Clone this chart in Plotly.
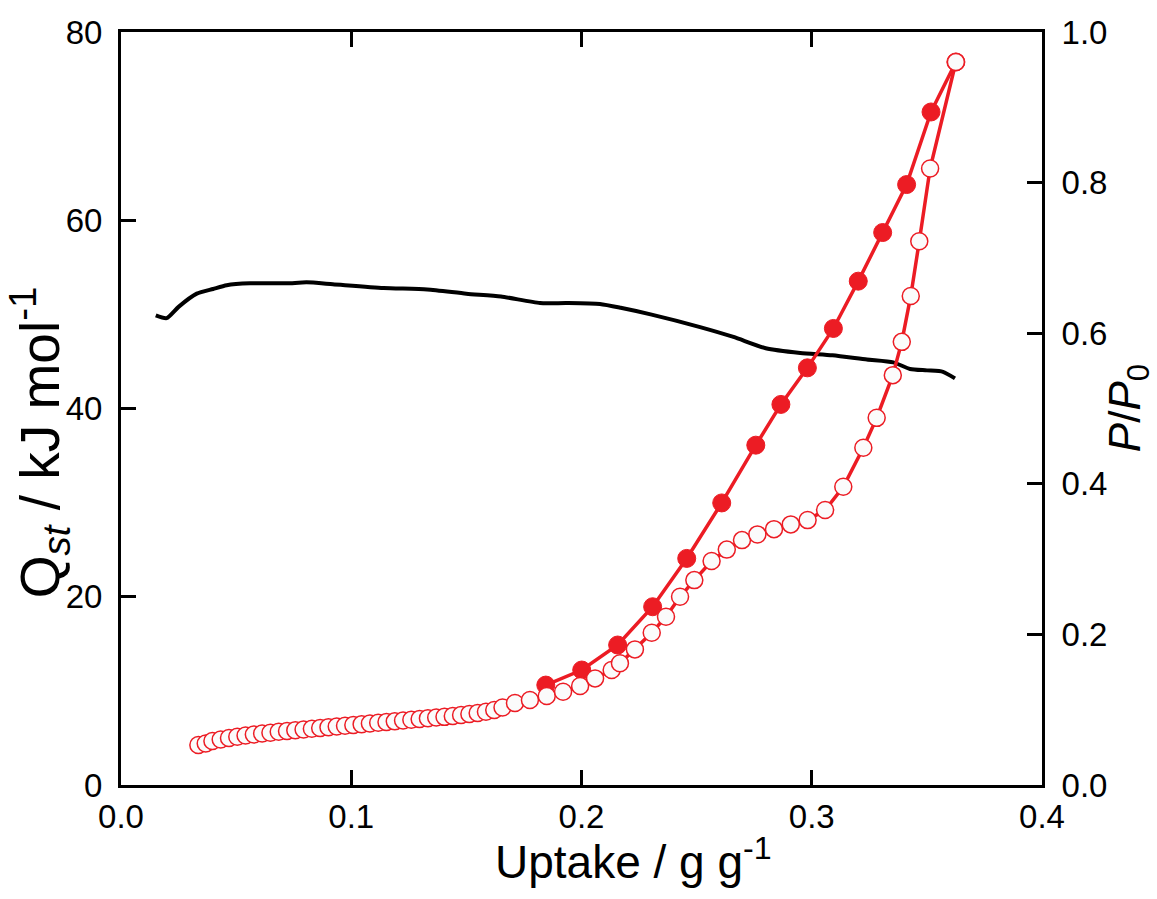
import plotly.graph_objects as go

# Isosteric heat of adsorption (left axis)
qst_uptake = [0.0151, 0.0198, 0.0250, 0.0329, 0.0400, 0.0459, 0.0560, 0.0720, 0.0806, 0.0920,
              0.1140, 0.1330, 0.1500, 0.1650, 0.1820, 0.1936, 0.2080, 0.2170, 0.2300, 0.2515,
              0.2660, 0.2800, 0.2950, 0.3090, 0.3240, 0.3354, 0.3427, 0.3500, 0.3570, 0.3622]
qst_values = [49.9, 49.6, 50.8, 52.2, 52.7, 53.1, 53.3, 53.3, 53.4, 53.2,
              52.8, 52.65, 52.2, 51.9, 51.2, 51.2, 51.1, 50.7, 50.0, 48.65,
              47.6, 46.4, 45.9, 45.65, 45.2, 44.9, 44.2, 44.05, 43.9, 43.2]

# Adsorption branch (filled circles, right axis)
ads_uptake = [0.1845, 0.2001, 0.2157, 0.2309, 0.2457, 0.2609, 0.2757, 0.2866, 0.2981, 0.3094,
              0.3202, 0.3308, 0.3412, 0.3518, 0.3626]
ads_pp0 = [0.1327, 0.1527, 0.1859, 0.2367, 0.3009, 0.3746, 0.4513, 0.5054, 0.5540, 0.6063,
           0.6691, 0.7337, 0.7974, 0.8938, 0.9602]

# Desorption branch (open circles, right axis)
des_uptake = [0.0336, 0.0368, 0.0397, 0.0433, 0.0469, 0.0505, 0.0541, 0.0577, 0.0613, 0.0649,
              0.0685, 0.0721, 0.0757, 0.0793, 0.0829, 0.0865, 0.0901, 0.0937, 0.0973, 0.1009,
              0.1045, 0.1081, 0.1117, 0.1153, 0.1189, 0.1225, 0.1261, 0.1297, 0.1333, 0.1369,
              0.1405, 0.1441, 0.1477, 0.1513, 0.1549, 0.1585, 0.1621, 0.1657,
              0.1711, 0.1776, 0.1849, 0.1920, 0.1994, 0.2059, 0.2131, 0.2167, 0.2232, 0.2305,
              0.2367, 0.2428, 0.2490, 0.2565, 0.2631, 0.2697, 0.2764, 0.2836, 0.2909, 0.2982,
              0.3058, 0.3137, 0.3224, 0.3282, 0.3352, 0.3391, 0.3430, 0.3467, 0.3514, 0.3626]
des_pp0 = [0.0531, 0.0551, 0.0584, 0.0604, 0.0624, 0.0641, 0.0657, 0.0670, 0.0684, 0.0694,
           0.0708, 0.0717, 0.0727, 0.0737, 0.0747, 0.0757, 0.0766, 0.0776, 0.0786, 0.0796,
           0.0806, 0.0816, 0.0826, 0.0836, 0.0845, 0.0856, 0.0866, 0.0876, 0.0887, 0.0896,
           0.0905, 0.0916, 0.0929, 0.0943, 0.0956, 0.0973, 0.0996, 0.1029,
           0.1089, 0.1128, 0.1181, 0.1239, 0.1314, 0.1416, 0.1527, 0.1616, 0.1801, 0.2022,
           0.2234, 0.2500, 0.2721, 0.2974, 0.3126, 0.3252, 0.3328, 0.3398, 0.3461, 0.3518,
           0.3651, 0.3960, 0.4478, 0.4876, 0.5443, 0.5885, 0.6495, 0.7222, 0.8187, 0.9602]

x_ticks = [0.0, 0.1, 0.2, 0.3, 0.4]
y_ticks = [0, 20, 40, 60, 80]
y2_ticks = [0.0, 0.2, 0.4, 0.6, 0.8, 1.0]

RED = "#EC1C24"
FONT = "Liberation Sans, Arial, sans-serif"

fig = go.Figure()
fig.add_trace(go.Scatter(x=qst_uptake, y=qst_values, mode="lines",
                         line=dict(color="black", width=4, shape="spline", smoothing=0.6),
                         yaxis="y", showlegend=False))
fig.add_trace(go.Scatter(x=ads_uptake, y=ads_pp0, mode="lines+markers",
                         line=dict(color=RED, width=3.5),
                         marker=dict(symbol="circle", size=18, color=RED, line=dict(color=RED, width=1)),
                         yaxis="y2", showlegend=False))
fig.add_trace(go.Scatter(x=des_uptake, y=des_pp0, mode="lines+markers",
                         line=dict(color=RED, width=3.5),
                         marker=dict(symbol="circle", size=17, color="#FBFBFB", line=dict(color=RED, width=1.5)),
                         yaxis="y2", showlegend=False))

axis_common = dict(showline=True, linecolor="black", linewidth=3, ticks="inside",
                   ticklen=15, tickwidth=3, tickcolor="black", showgrid=False, zeroline=False,
                   tickfont=dict(family=FONT, size=33, color="black"))

fig.update_layout(
    width=1157, height=899,
    margin=dict(l=121, r=115, t=32, b=114),
    paper_bgcolor="white", plot_bgcolor="white",
    xaxis=dict(range=[0, 0.4], tickvals=x_ticks, ticktext=[f"{v:.1f}" for v in x_ticks],
               mirror="ticks", ticklabelstandoff=0, **axis_common),
    yaxis=dict(range=[0, 80], tickvals=y_ticks, ticktext=[str(v) for v in y_ticks],
               ticklabelstandoff=9, **axis_common),
    yaxis2=dict(range=[0, 1.0], tickvals=y2_ticks, ticktext=[f"{v:.1f}" for v in y2_ticks],
                overlaying="y", side="right", ticklabelstandoff=10, **axis_common),
    annotations=[
        dict(text="Uptake / g g<sup>-1</sup>", xref="paper", yref="paper", x=0.556, y=-0.098,
             xanchor="center", yanchor="middle", showarrow=False, borderpad=0,
             font=dict(family=FONT, size=46, color="black")),
        dict(text="Q<sub><i>st</i></sub> / kJ mol<sup>-1</sup>", xref="paper", yref="paper",
             x=-0.088, y=0.455, xanchor="center", yanchor="middle", textangle=-90, showarrow=False,
             borderpad=0, font=dict(family=FONT, size=55, color="black")),
        dict(text="<i>P</i>/<i>P</i><sub>0</sub>", xref="paper", yref="paper",
             x=1.093, y=0.5, xanchor="center", yanchor="middle", textangle=-90, showarrow=False,
             borderpad=0, font=dict(family=FONT, size=44, color="black")),
    ],
)

fig.write_html("out.html")
